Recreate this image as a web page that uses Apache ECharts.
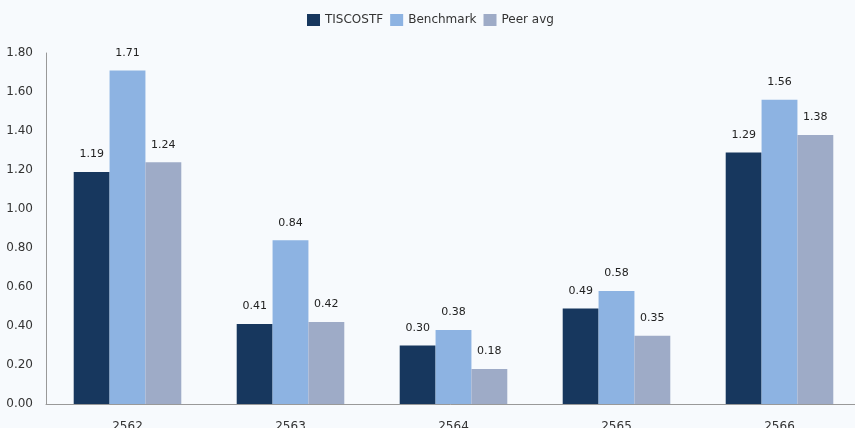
<!DOCTYPE html>
<html>
<head>
<meta charset="utf-8">
<script src="https://cdn.jsdelivr.net/npm/echarts@6/dist/echarts.min.js"></script>
<style>
html,body{margin:0;padding:0;background:#f7fafd;}
#c{width:855px;height:428px;}
</style>
</head>
<body>
<div id="c"></div>
<script>
const categories = ['2562','2563','2564','2565','2566'];
const seriesNames = ['TISCOSTF','Benchmark','Peer avg'];
const tiscostf = [1.19, 0.41, 0.30, 0.49, 1.29];
const benchmark = [1.71, 0.84, 0.38, 0.58, 1.56];
const peerAvg = [1.24, 0.42, 0.18, 0.35, 1.38];
const colors = ['#17375e', '#8db3e2', '#9eabc7'];

const font = 'DejaVu Sans';
const chart = echarts.init(document.getElementById('c'), null, {renderer: 'canvas'});
const mk = (name, data, color) => ({
  name, type: 'bar', data,
  barGap: '0%', barCategoryGap: '34%',
  itemStyle: {color},
  label: {show: true, position: 'top', distance: 12, formatter: p => p.value.toFixed(2),
          color: '#222', fontFamily: font, fontSize: 11}
});
chart.setOption({
  backgroundColor: '#f7fafd',
  animation: false,
  legend: {
    top: 14, left: 307, itemWidth: 13, itemHeight: 12, itemGap: 7,
    padding: 0,
    icon: 'rect',
    textStyle: {fontFamily: font, fontSize: 12, color: '#333'},
    data: seriesNames
  },
  grid: {left: 46, right: -6, top: 53, bottom: 24, containLabel: false, outerBoundsMode: 'none'},
  xAxis: {
    type: 'category', data: categories,
    axisLine: {lineStyle: {color: '#999'}},
    axisTick: {show: false},
    axisLabel: {margin: 17, fontFamily: font, fontSize: 12, color: '#333'}
  },
  yAxis: {
    type: 'value', min: 0, max: 1.8, interval: 0.2,
    axisLine: {show: true, lineStyle: {color: '#999'}},
    axisTick: {show: false},
    splitLine: {show: false},
    axisLabel: {margin: 13, formatter: v => v.toFixed(2),
                fontFamily: font, fontSize: 12, color: '#333'}
  },
  series: [
    mk(seriesNames[0], tiscostf, colors[0]),
    mk(seriesNames[1], benchmark, colors[1]),
    mk(seriesNames[2], peerAvg, colors[2])
  ]
});
</script>
</body>
</html>
